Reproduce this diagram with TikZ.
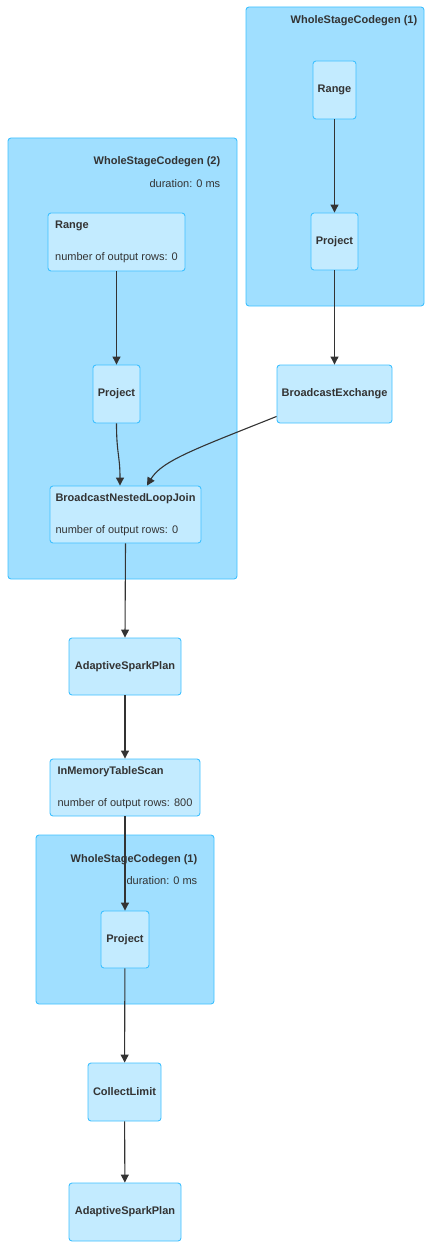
\documentclass[tikz,border=0pt]{standalone}
\usepackage{fontspec}
\setmainfont{Liberation Sans}
\usepackage{tikz}
\usetikzlibrary{arrows.meta, positioning, calc}
\definecolor{clusterfill}{HTML}{A0DFFF}
\definecolor{clusterline}{HTML}{3EC0FF}
\definecolor{opfill}{HTML}{C3EBFF}
\definecolor{opline}{HTML}{3EC0FF}
\definecolor{inkgray}{HTML}{333333}
\newcommand{\plansize}{\fontsize{11pt}{13pt}\selectfont}
\tikzset{
    base/.style={draw=opline, line width=0.9pt, rounded corners=3pt, text=inkgray, inner sep=0pt},
    cluster/.style={base, draw=clusterline, fill=clusterfill},
    op/.style={base, fill=opfill, font=\plansize\bfseries, align=center},
    metricop/.style={base, fill=opfill, font=\plansize, align=left},
    clustertitle/.style={inner sep=0pt, text=inkgray, font=\plansize\bfseries, anchor=east},
    clusterinfo/.style={inner sep=0pt, text=inkgray, font=\plansize, anchor=east},
    edge/.style={draw=inkgray, line width=1.1pt, -{Triangle[length=8pt, width=8pt]}}
}

\begin{document}
\begin{tikzpicture}[x=1pt, y=1pt]
    \useasboundingbox (0,0) rectangle (433,-1249);

    % stage clusters
    \node [cluster, minimum width=178pt, minimum height=299pt] (wsc1a) at (335,-156.5) {};
    \node [cluster, minimum width=229pt, minimum height=441pt] (wsc2) at (122.5,-358.5) {};
    \node [cluster, minimum width=178pt, minimum height=169pt] (wsc1b) at (125,-919.5) {};

    \node [clustertitle] (wsc1atitle) at ([xshift=-7pt, yshift=-14pt]wsc1a.north east) {WholeStageCodegen (1)};
    \node [clustertitle] (wsc2title) at ([xshift=-17pt, yshift=-24pt]wsc2.north east) {WholeStageCodegen (2)};
    \node [clusterinfo] (wsc2info) at ([xshift=-17pt, yshift=-46pt]wsc2.north east) {duration: 0 ms};
    \node [clustertitle] (wsc1btitle) at ([xshift=-17pt, yshift=-25pt]wsc1b.north east) {WholeStageCodegen (1)};
    \node [clusterinfo] (wsc1binfo) at ([xshift=-17pt, yshift=-46pt]wsc1b.north east) {duration: 0 ms};

    % operators
    \node [op, minimum width=43pt, minimum height=58pt] (range1) at (334.5,-90) {Range};
    \node [op, minimum width=47pt, minimum height=57pt] (proj1) at (334.5,-241.5) {Project};
    \node [op, minimum width=115pt, minimum height=58pt] (bex) at (334.5,-394) {BroadcastExchange};
    \node [metricop, minimum width=137pt, minimum height=58pt] (range2) at (116.5,-242) {\textbf{Range}\\[19pt]number of output rows: 0};
    \node [op, minimum width=47pt, minimum height=58pt] (proj2) at (116.5,-394) {Project};
    \node [metricop, minimum width=151pt, minimum height=57pt] (bnlj) at (125.5,-514.5) {\textbf{BroadcastNestedLoopJoin}\\[19pt]number of output rows: 0};
    \node [op, minimum width=112pt, minimum height=57pt] (asp1) at (125,-666.5) {AdaptiveSparkPlan};
    \node [metricop, minimum width=150pt, minimum height=57pt] (imts) at (125,-787.5) {\textbf{InMemoryTableScan}\\[19pt]number of output rows: 800};
    \node [op, minimum width=48pt, minimum height=57pt] (proj3) at (125,-939.5) {Project};
    \node [op, minimum width=73pt, minimum height=58pt] (climit) at (124.5,-1092) {CollectLimit};
    \node [op, minimum width=112pt, minimum height=58pt] (asp2) at (125,-1212) {AdaptiveSparkPlan};

    % edges
    \draw [edge] (range1) -- (proj1);
    \draw [edge] (proj1) -- (bex);
    \draw [edge] (range2) -- (proj2);
    \draw [edge] (proj2.south) .. controls +(0,-30) and +(0,30) .. ([xshift=-5.5pt]bnlj.north);
    \draw [edge] ([yshift=7pt]bex.south west) .. controls +(-80,-32) and +(15,25) .. ([xshift=21.5pt]bnlj.north);
    \draw [edge] (bnlj.south) -- (asp1.north);
    \draw [edge] (asp1) -- (imts);
    \draw [edge] (imts) -- (proj3);
    \draw [edge] (proj3) -- (climit);
    \draw [edge] (climit) -- (asp2);
\end{tikzpicture}
\end{document}
